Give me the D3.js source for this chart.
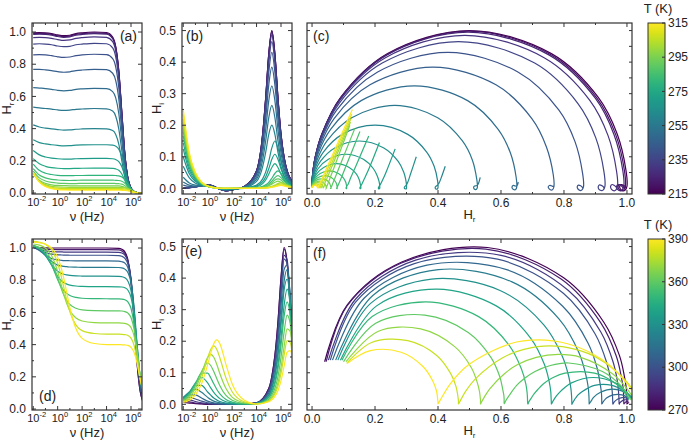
<!DOCTYPE html>
<html>
<head>
<meta charset="utf-8">
<script src="https://cdn.jsdelivr.net/npm/d3@7"></script>
<style>
body { margin: 0; background: #fff; }
text { font-family: "Liberation Sans", Arial, sans-serif; fill: #222; }
</style>
</head>
<body>
<svg id="fig" width="691" height="443"></svg>
<script>
// ---- top row (a)-(c): temperatures 215..315 K
var tempsTop = [215, 220, 225, 230, 235, 240, 245, 250, 255, 260, 265, 270, 275, 280, 285, 290, 295, 300, 305, 310, 315];
var freqTop = [0.01, 0.0316, 0.1, 0.316, 1, 3.16, 10, 31.6, 100, 1e3, 1e4, 3.16e4, 5.62e4, 1e5, 1.78e5, 3.16e5, 5.62e5, 1e6, 1.78e6, 3.16e6, 1e7];

var hrTop = [
  [0.995,0.997,0.995,0.99,0.982,0.977,0.98,0.99,0.995,1.0,0.997,0.969,0.909,0.76,0.5,0.24,0.091,0.031,0.01,0.003,0],
  [0.99,0.992,0.99,0.985,0.977,0.972,0.975,0.985,0.99,0.995,0.992,0.964,0.904,0.756,0.498,0.239,0.091,0.031,0.01,0.003,0],
  [0.985,0.987,0.985,0.98,0.972,0.967,0.97,0.98,0.985,0.99,0.987,0.959,0.9,0.752,0.495,0.238,0.09,0.031,0.01,0.003,0],
  [0.965,0.967,0.965,0.96,0.953,0.948,0.951,0.96,0.965,0.97,0.967,0.94,0.882,0.737,0.485,0.233,0.088,0.03,0.01,0.003,0],
  [0.925,0.927,0.925,0.921,0.913,0.909,0.911,0.921,0.925,0.93,0.927,0.901,0.845,0.707,0.465,0.223,0.085,0.029,0.009,0.003,0],
  [0.858,0.859,0.858,0.853,0.846,0.842,0.845,0.853,0.858,0.862,0.859,0.835,0.784,0.655,0.431,0.207,0.078,0.027,0.009,0.003,0],
  [0.768,0.768,0.765,0.76,0.754,0.75,0.753,0.76,0.764,0.768,0.766,0.744,0.698,0.584,0.384,0.184,0.07,0.024,0.008,0.002,0],
  [0.655,0.652,0.649,0.644,0.638,0.635,0.637,0.644,0.647,0.65,0.648,0.63,0.591,0.494,0.325,0.156,0.059,0.02,0.007,0.002,0],
  [0.534,0.529,0.525,0.521,0.516,0.513,0.515,0.52,0.522,0.525,0.523,0.509,0.477,0.399,0.263,0.126,0.048,0.016,0.005,0.002,0],
  [0.423,0.41,0.403,0.398,0.394,0.391,0.392,0.396,0.398,0.4,0.399,0.388,0.364,0.304,0.2,0.096,0.036,0.012,0.004,0.001,0],
  [0.331,0.313,0.305,0.3,0.296,0.293,0.294,0.297,0.299,0.3,0.3,0.297,0.291,0.273,0.228,0.15,0.072,0.027,0.009,0.003,0],
  [0.264,0.237,0.224,0.217,0.213,0.211,0.211,0.213,0.214,0.215,0.215,0.213,0.208,0.195,0.163,0.108,0.052,0.019,0.007,0.002,0],
  [0.214,0.182,0.166,0.158,0.154,0.152,0.152,0.153,0.154,0.155,0.155,0.153,0.15,0.141,0.118,0.078,0.037,0.014,0.005,0.002,0],
  [0.18,0.141,0.123,0.115,0.11,0.108,0.108,0.109,0.109,0.11,0.11,0.11,0.109,0.107,0.1,0.084,0.055,0.026,0.01,0.003,0],
  [0.152,0.112,0.094,0.085,0.081,0.079,0.078,0.079,0.08,0.08,0.08,0.08,0.079,0.078,0.073,0.061,0.04,0.019,0.007,0.002,0],
  [0.136,0.094,0.075,0.066,0.062,0.06,0.059,0.059,0.06,0.06,0.06,0.06,0.059,0.058,0.055,0.046,0.03,0.014,0.005,0.002,0],
  [0.12,0.079,0.06,0.051,0.047,0.046,0.045,0.045,0.045,0.045,0.045,0.045,0.045,0.044,0.041,0.034,0.023,0.011,0.004,0.001,0],
  [0.122,0.074,0.052,0.041,0.038,0.036,0.035,0.035,0.035,0.035,0.035,0.035,0.035,0.035,0.034,0.032,0.027,0.018,0.008,0.003,0],
  [0.123,0.071,0.047,0.036,0.031,0.029,0.028,0.028,0.028,0.028,0.028,0.028,0.028,0.028,0.027,0.025,0.021,0.014,0.007,0.003,0],
  [0.126,0.069,0.043,0.03,0.025,0.023,0.022,0.022,0.022,0.022,0.022,0.022,0.022,0.022,0.021,0.02,0.017,0.011,0.005,0.002,0],
  [0.128,0.068,0.04,0.027,0.021,0.019,0.018,0.018,0.018,0.018,0.018,0.018,0.018,0.018,0.017,0.016,0.014,0.009,0.004,0.002,0]
];

var hiTop = [
  [0,0.002,0.005,0.009,0.012,0.006,-0.003,-0.008,-0.005,0.006,0.056,0.172,0.288,0.427,0.5,0.427,0.288,0.172,0.099,0.056,0.018],
  [0,0.002,0.005,0.009,0.012,0.006,-0.003,-0.008,-0.005,0.006,0.056,0.171,0.287,0.425,0.498,0.425,0.287,0.171,0.099,0.056,0.018],
  [0,0.002,0.005,0.009,0.012,0.006,-0.003,-0.008,-0.005,0.006,0.055,0.17,0.285,0.423,0.495,0.423,0.285,0.17,0.098,0.055,0.018],
  [0,0.002,0.005,0.009,0.012,0.006,-0.003,-0.008,-0.005,0.006,0.054,0.167,0.279,0.414,0.485,0.414,0.279,0.167,0.096,0.054,0.017],
  [0,0.002,0.005,0.008,0.011,0.006,-0.003,-0.007,-0.005,0.006,0.052,0.16,0.268,0.397,0.465,0.397,0.268,0.16,0.092,0.052,0.017],
  [0,0.002,0.004,0.008,0.01,0.005,-0.003,-0.007,-0.004,0.005,0.048,0.148,0.248,0.368,0.431,0.368,0.248,0.148,0.085,0.048,0.016],
  [0.01,0.006,0.006,0.008,0.009,0.005,-0.002,-0.006,-0.004,0.005,0.043,0.132,0.221,0.328,0.384,0.328,0.221,0.132,0.076,0.043,0.014],
  [0.02,0.01,0.007,0.008,0.009,0.004,-0.002,-0.005,-0.003,0.004,0.036,0.112,0.187,0.278,0.325,0.278,0.187,0.112,0.064,0.036,0.012],
  [0.035,0.017,0.01,0.008,0.007,0.003,-0.002,-0.004,-0.003,0.003,0.029,0.09,0.151,0.224,0.263,0.224,0.151,0.09,0.052,0.029,0.009],
  [0.07,0.033,0.016,0.01,0.007,0.003,-0.001,-0.003,-0.002,0.002,0.022,0.069,0.115,0.171,0.2,0.171,0.115,0.069,0.04,0.022,0.007],
  [0.1,0.046,0.022,0.011,0.007,0.003,-0.001,-0.002,-0.002,0.001,0.01,0.03,0.052,0.086,0.128,0.15,0.128,0.086,0.052,0.03,0.01],
  [0.125,0.056,0.026,0.012,0.006,0.003,-0.001,-0.002,-0.001,0.001,0.007,0.021,0.037,0.062,0.092,0.108,0.092,0.062,0.037,0.021,0.007],
  [0.145,0.065,0.03,0.013,0.006,0.002,0,-0.001,-0.001,0.001,0.005,0.015,0.027,0.045,0.066,0.078,0.066,0.045,0.027,0.015,0.005],
  [0.166,0.075,0.034,0.014,0.006,0.002,0,-0.001,-0.001,0,0.002,0.006,0.011,0.019,0.032,0.047,0.055,0.047,0.032,0.019,0.006],
  [0.18,0.081,0.036,0.015,0.006,0.002,0,-0.001,0,0,0.001,0.004,0.008,0.014,0.023,0.034,0.04,0.034,0.023,0.014,0.004],
  [0.19,0.086,0.038,0.016,0.006,0.002,0,0,0,0,0.001,0.003,0.006,0.01,0.017,0.026,0.03,0.026,0.017,0.01,0.003],
  [0.2,0.09,0.04,0.016,0.006,0.002,0,0,0,0,0.001,0.003,0.004,0.008,0.013,0.019,0.023,0.019,0.013,0.008,0.003],
  [0.21,0.095,0.042,0.017,0.006,0.002,0,0,0,0,0,0.001,0.002,0.003,0.006,0.01,0.015,0.018,0.015,0.01,0.003],
  [0.22,0.099,0.044,0.018,0.007,0.002,0,0,0,0,0,0.001,0.002,0.003,0.005,0.008,0.012,0.014,0.012,0.008,0.003],
  [0.235,0.106,0.047,0.019,0.007,0.002,0,0,0,0,0,0.001,0.001,0.002,0.004,0.006,0.009,0.011,0.009,0.006,0.002],
  [0.25,0.113,0.05,0.02,0.008,0.003,0,0,0,0,0,0.001,0.001,0.002,0.003,0.005,0.008,0.009,0.008,0.005,0.002]
];

// ---- bottom row (d)-(f): temperatures 270..390 K
var tempsBot = [270, 280, 290, 300, 310, 320, 330, 340, 350, 360, 370, 380, 390];
var freqBot = [0.01, 0.0316, 0.1, 0.316, 1, 1.78, 3.16, 5.62, 10, 31.6, 100, 1e3, 1e4, 1e5, 1.78e5, 3.16e5, 5.62e5, 1e6, 1.78e6, 3.16e6, 5.62e6, 1e7];

var hrBot = [
  [1.007,1.003,1.001,1.0,1.0,1.0,1.0,1.0,1.0,1.0,1.0,1.0,1.0,0.998,0.992,0.976,0.926,0.799,0.557,0.285,0.112,0.04],
  [1.005,0.997,0.993,0.991,0.99,0.99,0.99,0.99,0.99,0.99,0.99,0.99,0.99,0.988,0.982,0.966,0.917,0.791,0.552,0.282,0.111,0.045],
  [1.004,0.991,0.982,0.978,0.976,0.976,0.975,0.975,0.975,0.975,0.975,0.975,0.975,0.973,0.969,0.956,0.917,0.814,0.6,0.329,0.138,0.052],
  [1.007,0.989,0.971,0.962,0.958,0.957,0.956,0.956,0.955,0.955,0.955,0.955,0.955,0.953,0.949,0.936,0.899,0.798,0.589,0.325,0.139,0.058],
  [1.005,0.984,0.956,0.935,0.926,0.924,0.922,0.922,0.921,0.92,0.92,0.92,0.92,0.919,0.915,0.906,0.877,0.796,0.618,0.365,0.166,0.065],
  [1.016,0.994,0.955,0.916,0.894,0.889,0.886,0.884,0.882,0.881,0.88,0.88,0.88,0.879,0.877,0.869,0.847,0.784,0.635,0.401,0.193,0.075],
  [1.013,0.994,0.953,0.897,0.856,0.844,0.837,0.833,0.83,0.827,0.826,0.825,0.825,0.824,0.822,0.815,0.794,0.736,0.597,0.379,0.186,0.082],
  [1.016,1.0,0.962,0.893,0.824,0.801,0.786,0.776,0.77,0.764,0.762,0.76,0.76,0.759,0.758,0.753,0.738,0.694,0.585,0.395,0.205,0.09],
  [1.007,0.995,0.965,0.897,0.803,0.764,0.735,0.717,0.705,0.693,0.688,0.686,0.685,0.684,0.683,0.679,0.665,0.626,0.529,0.36,0.191,0.095],
  [1.014,1.004,0.981,0.922,0.815,0.757,0.708,0.673,0.649,0.626,0.616,0.611,0.61,0.61,0.609,0.605,0.596,0.568,0.496,0.358,0.202,0.1],
  [1.025,1.018,1.0,0.954,0.853,0.783,0.712,0.653,0.611,0.565,0.547,0.537,0.535,0.535,0.534,0.532,0.525,0.506,0.454,0.345,0.209,0.108],
  [1.041,1.036,1.023,0.989,0.906,0.837,0.755,0.673,0.604,0.521,0.487,0.469,0.465,0.465,0.464,0.462,0.457,0.44,0.396,0.304,0.189,0.11],
  [1.037,1.033,1.024,1.001,0.942,0.887,0.811,0.72,0.629,0.498,0.439,0.407,0.4,0.4,0.399,0.398,0.395,0.383,0.352,0.283,0.185,0.112]
];

var hiBot = [
  [0.006,0.004,0.002,0.001,0,0,0,0,0,0,0,0.001,0.005,0.05,0.088,0.155,0.261,0.401,0.497,0.451,0.315,0.135],
  [0.01,0.008,0.004,0.002,0.001,0.001,0,0,0,0,0,0.001,0.005,0.05,0.088,0.153,0.258,0.397,0.492,0.447,0.312,0.135],
  [0.014,0.014,0.009,0.005,0.002,0.001,0.001,0.001,0,0,0,0,0.004,0.043,0.077,0.134,0.229,0.361,0.472,0.457,0.333,0.14],
  [0.017,0.022,0.017,0.01,0.005,0.003,0.002,0.001,0.001,0,0,0,0.004,0.042,0.075,0.131,0.223,0.352,0.46,0.446,0.325,0.14],
  [0.02,0.03,0.03,0.02,0.01,0.007,0.005,0.003,0.002,0.001,0,0,0.004,0.036,0.064,0.112,0.193,0.311,0.427,0.441,0.337,0.14],
  [0.022,0.038,0.048,0.038,0.022,0.015,0.01,0.007,0.005,0.002,0.001,0,0.003,0.03,0.054,0.095,0.165,0.271,0.388,0.427,0.345,0.14],
  [0.02,0.039,0.06,0.06,0.039,0.029,0.02,0.014,0.009,0.004,0.002,0,0.003,0.028,0.05,0.089,0.154,0.252,0.361,0.397,0.32,0.14],
  [0.018,0.038,0.068,0.085,0.068,0.052,0.038,0.027,0.018,0.008,0.004,0.001,0.002,0.023,0.041,0.072,0.126,0.21,0.312,0.365,0.312,0.14],
  [0.015,0.033,0.065,0.099,0.099,0.084,0.065,0.047,0.033,0.015,0.007,0.001,0.002,0.021,0.036,0.064,0.112,0.187,0.278,0.325,0.278,0.14],
  [0.013,0.028,0.059,0.104,0.131,0.123,0.104,0.081,0.059,0.028,0.013,0.003,0.002,0.016,0.029,0.05,0.088,0.149,0.228,0.283,0.257,0.135],
  [0.01,0.023,0.05,0.097,0.149,0.158,0.149,0.126,0.097,0.05,0.023,0.005,0.001,0.012,0.022,0.039,0.068,0.116,0.182,0.239,0.231,0.135],
  [0.008,0.018,0.04,0.083,0.147,0.174,0.185,0.174,0.147,0.083,0.04,0.008,0.001,0.01,0.019,0.033,0.057,0.098,0.155,0.202,0.196,0.13],
  [0.006,0.013,0.03,0.065,0.126,0.162,0.192,0.204,0.192,0.126,0.065,0.013,0.001,0.008,0.014,0.025,0.043,0.075,0.12,0.165,0.17,0.13]
];

// tick values
var decades = [-2, -1, 0, 1, 2, 3, 4, 5, 6];
var hrTicks = [0, 0.2, 0.4, 0.6, 0.8, 1.0];
var hrMinor = [0.1, 0.3, 0.5, 0.7, 0.9];
var hiTicks = [0, 0.1, 0.2, 0.3, 0.4, 0.5];
var hiMinor = [0.05, 0.15, 0.25, 0.35, 0.45];
var nyqTicks = [0, 0.2, 0.4, 0.6, 0.8, 1.0];
var nyqMinor = [0.1, 0.3, 0.5, 0.7, 0.9];
var cbTicksTop = [215, 235, 255, 275, 295, 315];
var cbTicksBot = [270, 300, 330, 360, 390];

var svg = d3.select("#fig");
var PW = 110, PH = 171, NW = 325;
var fmt = d3.format(".1f");

var colorTop = d3.scaleSequential(d3.interpolateViridis).domain([215, 315]);
var colorBot = d3.scaleSequential(d3.interpolateViridis).domain([270, 390]);

function frame(g, w, h) {
    g.append("rect").attr("width", w).attr("height", h)
        .attr("fill", "none").attr("stroke", "#333").attr("stroke-width", 1.2);
}

function xTicks(g, x, vals, len, h) {
    vals.forEach(function(v) {
        var p = x(v);
        g.append("line").attr("x1", p).attr("x2", p).attr("y1", h).attr("y2", h - len);
        g.append("line").attr("x1", p).attr("x2", p).attr("y1", 0).attr("y2", len);
    });
}

function yTicks(g, y, vals, len, w) {
    vals.forEach(function(v) {
        var p = y(v);
        g.append("line").attr("y1", p).attr("y2", p).attr("x1", 0).attr("x2", len);
        g.append("line").attr("y1", p).attr("y2", p).attr("x1", w).attr("x2", w - len);
    });
}

function subLabel(g, x, y, main, sub, rotate) {
    var t = g.append("text").attr("text-anchor", "middle").style("font-size", "13px")
        .attr("transform", "translate(" + x + "," + y + ")" + (rotate ? " rotate(-90)" : ""));
    t.append("tspan").text(main);
    t.append("tspan").attr("dy", 3).style("font-size", "8px").text(sub);
}

function tag(g, x, y, txt, anchor) {
    g.append("text").attr("x", x).attr("y", y).attr("text-anchor", anchor || "start")
        .style("font-size", "14px").text(txt);
}

// frequency panels (a, b, d, e)
function freqPanel(o) {
    var g = svg.append("g").attr("transform", "translate(" + o.left + "," + o.top + ")");
    var x = d3.scaleLog().domain([Math.pow(10, -2.1), Math.pow(10, 6.9)]).range([0, PW]);
    var y = d3.scaleLinear().domain(o.yDomain).range([PH, 0]);
    var id = "clip-" + o.name;
    g.append("clipPath").attr("id", id).append("rect").attr("width", PW).attr("height", PH);

    var line = d3.line()
        .x(function(d, i) { return x(o.freq[i]); })
        .y(function(d) { return y(d); })
        .curve(d3.curveMonotoneX);

    g.append("g").attr("clip-path", "url(#" + id + ")")
        .selectAll("path").data(o.values).enter().append("path")
        .attr("d", line)
        .attr("fill", "none")
        .attr("stroke", function(d, i) { return o.color(o.temps[i]); })
        .attr("stroke-width", 1.2);

    var tk = g.append("g").attr("stroke", "#333").attr("stroke-width", 1);
    xTicks(tk, x, decades.filter(function(e) { return e % 2 === 0; }).map(function(e) { return Math.pow(10, e); }), 4, PH);
    xTicks(tk, x, decades.filter(function(e) { return e % 2 !== 0; }).map(function(e) { return Math.pow(10, e); }), 2, PH);
    yTicks(tk, y, o.yTicks, 4, PW);
    yTicks(tk, y, o.yMinor, 2, PW);
    frame(g, PW, PH);

    o.yTicks.forEach(function(v) {
        g.append("text").attr("x", -6).attr("y", y(v)).attr("dy", "0.35em")
            .attr("text-anchor", "end").style("font-size", "12px").text(fmt(v));
    });
    // "10" roughly centred on the tick, exponent hanging to the right
    decades.filter(function(e) { return e % 2 === 0; }).forEach(function(e) {
        var t = g.append("text").attr("x", x(Math.pow(10, e)) - 6).attr("y", PH + 12)
            .style("font-size", "11px");
        t.append("tspan").text("10");
        t.append("tspan").attr("dy", -5).style("font-size", "7.5px").text(e);
    });
    g.append("text").attr("x", PW / 2).attr("y", PH + 27).attr("text-anchor", "middle")
        .style("font-size", "13px").text("\u03bd (Hz)");
    subLabel(g, o.ylabX, PH / 2, "H", o.ysub, true);
    tag(g, o.tagX, o.tagY, o.tag, o.tagAnchor);
}

// complex plane panels (c, f)
function nyqPanel(o) {
    var g = svg.append("g").attr("transform", "translate(" + o.left + "," + o.top + ")");
    var x = d3.scaleLinear().domain([-0.016, 1.016]).range([0, NW]);
    var y = d3.scaleLinear().domain([-0.018, 0.524]).range([PH, 0]);
    var id = "clip-" + o.name;
    g.append("clipPath").attr("id", id).append("rect").attr("width", NW).attr("height", PH);

    var line = d3.line()
        .x(function(d) { return x(d[0]); })
        .y(function(d) { return y(d[1]); })
        .curve(d3.curveCatmullRom.alpha(0.5));

    var pairs = o.hr.map(function(r, i) { return d3.zip(r, o.hi[i]); });
    g.append("g").attr("clip-path", "url(#" + id + ")")
        .selectAll("path").data(pairs).enter().append("path")
        .attr("d", line)
        .attr("fill", "none")
        .attr("stroke", function(d, i) { return o.color(o.temps[i]); })
        .attr("stroke-width", 1.2);

    var tk = g.append("g").attr("stroke", "#333").attr("stroke-width", 1);
    xTicks(tk, x, nyqTicks, 4, PH);
    xTicks(tk, x, nyqMinor, 2, PH);
    yTicks(tk, y, d3.range(0, 0.501, 0.05), 3, NW);
    frame(g, NW, PH);

    nyqTicks.forEach(function(v) {
        g.append("text").attr("x", x(v)).attr("y", PH + 13).attr("text-anchor", "middle")
            .style("font-size", "12px").text(fmt(v));
    });
    subLabel(g, NW / 2, PH + 25, "H", "r", false);
    tag(g, 6, o.tagY, o.tag);
}

function colorbar(o) {
    var g = svg.append("g").attr("transform", "translate(" + o.left + "," + o.top + ")");
    var gid = "grad-" + o.name;
    var grad = g.append("defs").append("linearGradient").attr("id", gid)
        .attr("x1", 0).attr("y1", 1).attr("x2", 0).attr("y2", 0);
    d3.range(0, 1.0001, 0.05).forEach(function(t) {
        grad.append("stop").attr("offset", (t * 100) + "%").attr("stop-color", d3.interpolateViridis(t));
    });
    var y = d3.scaleLinear().domain(o.color.domain()).range([PH, 0]);
    g.append("rect").attr("width", 17).attr("height", PH).attr("fill", "url(#" + gid + ")")
        .attr("stroke", "#333").attr("stroke-width", 1);
    o.ticks.forEach(function(v) {
        g.append("line").attr("x1", 17).attr("x2", 14).attr("y1", y(v)).attr("y2", y(v))
            .attr("stroke", "#333");
        g.append("text").attr("x", 20).attr("y", y(v)).attr("dy", "0.35em")
            .style("font-size", "12px").text(v);
    });
    g.append("text").attr("x", 10).attr("y", -10).attr("text-anchor", "middle")
        .style("font-size", "13px").text("T (K)");
}

freqPanel({name: "a", left: 32, top: 23, freq: freqTop, values: hrTop, temps: tempsTop, color: colorTop,
    yDomain: [-0.006, 1.056], yTicks: hrTicks, yMinor: hrMinor, ysub: "r", ylabX: -21,
    tag: "(a)", tagX: 105, tagY: 18, tagAnchor: "end"});
freqPanel({name: "b", left: 182, top: 23, freq: freqTop, values: hiTop, temps: tempsTop, color: colorTop,
    yDomain: [-0.018, 0.524], yTicks: hiTicks, yMinor: hiMinor, ysub: "i", ylabX: -21,
    tag: "(b)", tagX: 4, tagY: 18});
nyqPanel({name: "c", left: 307, top: 23, hr: hrTop, hi: hiTop, temps: tempsTop, color: colorTop,
    tag: "(c)", tagY: 18});
colorbar({name: "top", left: 648, top: 23, color: colorTop, ticks: cbTicksTop});

freqPanel({name: "d", left: 32, top: 239, freq: freqBot, values: hrBot, temps: tempsBot, color: colorBot,
    yDomain: [-0.006, 1.056], yTicks: hrTicks, yMinor: hrMinor, ysub: "r", ylabX: -21,
    tag: "(d)", tagX: 7, tagY: 162});
freqPanel({name: "e", left: 182, top: 239, freq: freqBot, values: hiBot, temps: tempsBot, color: colorBot,
    yDomain: [-0.018, 0.524], yTicks: hiTicks, yMinor: hiMinor, ysub: "i", ylabX: -21,
    tag: "(e)", tagX: 3, tagY: 17});
nyqPanel({name: "f", left: 307, top: 239, hr: hrBot, hi: hiBot, temps: tempsBot, color: colorBot,
    tag: "(f)", tagY: 19});
colorbar({name: "bot", left: 648, top: 239, color: colorBot, ticks: cbTicksBot});
</script>
</body>
</html>
